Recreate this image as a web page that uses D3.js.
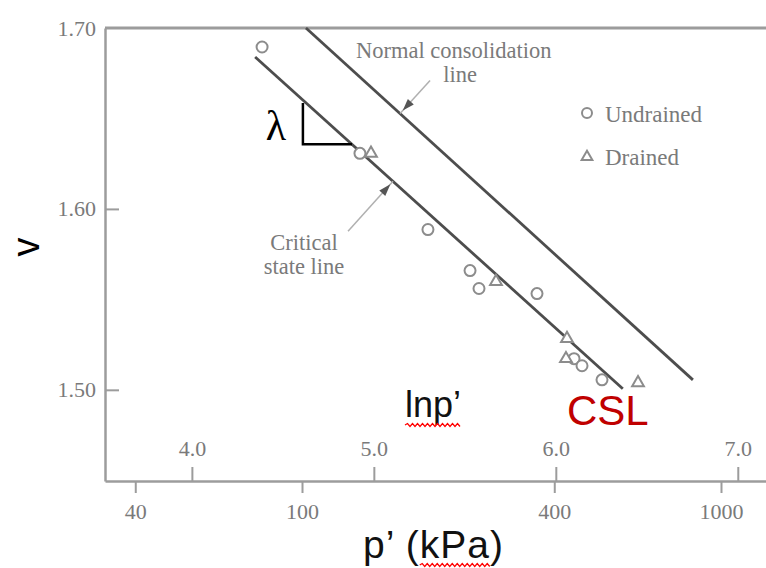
<!DOCTYPE html>
<html>
<head>
    <meta charset="utf-8">
    <script src="https://d3js.org/d3.v7.min.js"></script>
    <style>
        body { margin: 0; background: #fff; }
        .serif { font-family: 'Liberation Serif', 'DejaVu Serif', serif; fill: #7a7a7a; }
        .sans { font-family: 'Liberation Sans', Arial, sans-serif; }
    </style>
</head>
<body>
<div id="chart"></div>
<script>
    // values (p' in kPa, v specific volume)
    const undrainedP = [80.3, 137.5, 199.8, 251.8, 264.5, 363.8, 445.9, 465.9, 520];
    const undrainedV = [1.6895, 1.6307, 1.5886, 1.5659, 1.5560, 1.5532, 1.5172, 1.5133, 1.5055];
    const drainedP = [146.1, 290.4, 429, 426.6, 633.8];
    const drainedV = [1.6307, 1.5598, 1.5283, 1.5172, 1.5039];

    // line end points
    const cslP = [77.3, 583];
    const cslV = [1.684, 1.5006];
    const nclP = [102.2, 857];
    const nclV = [1.700, 1.5055];

    // slope triangle along the CSL
    const lambdaP = [100.5, 131.6];

    const pTicks = [40, 100, 400, 1000];
    const lnTicks = [4, 5, 6, 7];
    const vTicks = [1.50, 1.60, 1.70];

    var width = 766, height = 568;
    var mLeft = 105, mRight = 766, mTop = 28, mBottom = 481;

    var svg = d3.select("#chart").append("svg")
        .attr("width", width)
        .attr("height", height);

    var x = d3.scaleLog().domain([33.87, 1280.6]).range([mLeft, mRight]);
    var xl = d3.scaleLinear().domain([Math.log(33.87), Math.log(1280.6)]).range([mLeft, mRight]);
    var y = d3.scaleLinear().domain([1.4496, 1.70]).range([mBottom, mTop]);

    // v on a line at pressure p (straight in v - ln p)
    function lineV(ps, vs, p) {
        var t = (Math.log(p) - Math.log(ps[0])) / (Math.log(ps[1]) - Math.log(ps[0]));
        return vs[0] + t * (vs[1] - vs[0]);
    }

    var axisColor = "#9c9c9c";
    var labelColor = "#8a8a8a";

    // y axis
    var yAxis = svg.append("g")
        .attr("transform", "translate(" + mLeft + ",0)")
        .call(d3.axisLeft(y).tickValues(vTicks).tickFormat(d3.format(".2f"))
            .tickSize(-14).tickSizeOuter(0).tickPadding(9));
    yAxis.select(".domain").attr("stroke", axisColor).attr("stroke-width", 2.5);
    yAxis.selectAll(".tick line").attr("stroke", axisColor).attr("stroke-width", 2)
        .filter(d => d === 1.70).remove();
    yAxis.selectAll(".tick text").attr("class", "serif").style("font-size", "22px").attr("fill", labelColor);

    // top border
    svg.append("line")
        .attr("x1", mLeft).attr("x2", mRight)
        .attr("y1", mTop).attr("y2", mTop)
        .attr("stroke", axisColor).attr("stroke-width", 3);

    // p' axis (below)
    var xAxis = svg.append("g")
        .attr("transform", "translate(0," + mBottom + ")")
        .call(d3.axisBottom(x).tickValues(pTicks).tickFormat(d3.format("d"))
            .tickSize(12).tickSizeOuter(0).tickPadding(10));
    xAxis.select(".domain").attr("stroke", axisColor).attr("stroke-width", 2.5);
    xAxis.selectAll(".tick line").attr("stroke", axisColor).attr("stroke-width", 2);
    xAxis.selectAll(".tick text").attr("class", "serif").style("font-size", "22px").attr("fill", labelColor);

    // ln p' axis (ticks up)
    var lnAxis = svg.append("g")
        .attr("transform", "translate(0," + mBottom + ")")
        .call(d3.axisTop(xl).tickValues(lnTicks).tickFormat(d3.format(".1f"))
            .tickSize(14).tickSizeOuter(0).tickPadding(11));
    lnAxis.select(".domain").remove();
    lnAxis.selectAll(".tick line").attr("stroke", axisColor).attr("stroke-width", 2);
    lnAxis.selectAll(".tick text").attr("class", "serif").style("font-size", "22px").attr("fill", labelColor);

    // NCL and CSL
    var line = d3.line().x(d => x(d[0])).y(d => y(d[1]));
    svg.append("path")
        .datum(d3.zip(nclP, nclV))
        .attr("d", line)
        .attr("fill", "none").attr("stroke", "#4d4d4d").attr("stroke-width", 2.8);
    svg.append("path")
        .datum(d3.zip(cslP, cslV))
        .attr("d", line)
        .attr("fill", "none").attr("stroke", "#4d4d4d").attr("stroke-width", 2.8);

    // lambda triangle
    var ta = [x(lambdaP[0]), y(lineV(cslP, cslV, lambdaP[0]))];
    var tb = [x(lambdaP[1]), y(lineV(cslP, cslV, lambdaP[1]))];
    svg.append("path")
        .attr("d", "M" + ta[0] + "," + (ta[1] + 3) + "V" + tb[1] + "H" + tb[0])
        .attr("fill", "none").attr("stroke", "#000").attr("stroke-width", 2.5);
    svg.append("text")
        .attr("x", ta[0] - 27).attr("y", tb[1] - 4)
        .attr("text-anchor", "middle")
        .style("font-family", "'Liberation Serif', serif")
        .style("font-size", "42px")
        .text("λ");

    // markers
    var markerColor = "#8c8c8c";
    svg.selectAll(".undrained")
        .data(d3.zip(undrainedP, undrainedV))
        .enter().append("circle")
        .attr("class", "undrained")
        .attr("cx", d => x(d[0])).attr("cy", d => y(d[1]))
        .attr("r", 5.5)
        .attr("fill", "#fff").attr("stroke", markerColor).attr("stroke-width", 2);

    var tri = d3.symbol().type(d3.symbolTriangle).size(60);
    svg.selectAll(".drained")
        .data(d3.zip(drainedP, drainedV))
        .enter().append("path")
        .attr("class", "drained")
        .attr("d", tri)
        .attr("transform", d => "translate(" + x(d[0]) + "," + y(d[1]) + ")")
        .attr("fill", "#fff").attr("stroke", markerColor).attr("stroke-width", 2);

    // annotation arrows
    function arrow(x1, y1, x2, y2) {
        svg.append("line")
            .attr("x1", x1).attr("y1", y1).attr("x2", x2).attr("y2", y2)
            .attr("stroke", "#b0b0b0").attr("stroke-width", 1.5);
        var ang = Math.atan2(y2 - y1, x2 - x1);
        var back = 12, tipBack = 4, w = 4;
        var tx = x2 - tipBack * Math.cos(ang), ty = y2 - tipBack * Math.sin(ang);
        var bx = tx - back * Math.cos(ang), by = ty - back * Math.sin(ang);
        var px = -Math.sin(ang) * w, py = Math.cos(ang) * w;
        svg.append("path")
            .attr("d", "M" + tx + "," + ty + "L" + (bx + px) + "," + (by + py) + "L" + (bx - px) + "," + (by - py) + "Z")
            .attr("fill", "#555");
    }
    var nclTipP = 171.4, cslTipP = 164.9;
    var nTip = [x(nclTipP), y(lineV(nclP, nclV, nclTipP))];
    arrow(nTip[0] + 30, nTip[1] - 33, nTip[0], nTip[1]);
    var cTip = [x(cslTipP), y(lineV(cslP, cslV, cslTipP))];
    arrow(cTip[0] - 45, cTip[1] + 50, cTip[0], cTip[1]);

    // annotation texts
    svg.append("text").attr("class", "serif").style("font-size", "22.5px")
        .attr("x", 356).attr("y", 58).text("Normal consolidation");
    svg.append("text").attr("class", "serif").style("font-size", "22.5px")
        .attr("x", 460).attr("y", 82).attr("text-anchor", "middle").text("line");
    svg.append("text").attr("class", "serif").style("font-size", "22.5px")
        .attr("x", 304).attr("y", 250).attr("text-anchor", "middle").text("Critical");
    svg.append("text").attr("class", "serif").style("font-size", "22.5px")
        .attr("x", 304).attr("y", 274).attr("text-anchor", "middle").text("state line");

    // legend
    svg.append("circle").attr("cx", 587).attr("cy", 113).attr("r", 5)
        .attr("fill", "#fff").attr("stroke", markerColor).attr("stroke-width", 2);
    svg.append("path").attr("d", d3.symbol().type(d3.symbolTriangle).size(50))
        .attr("transform", "translate(587,157)")
        .attr("fill", "#fff").attr("stroke", markerColor).attr("stroke-width", 2);
    svg.append("text").attr("class", "serif").style("font-size", "23px")
        .attr("x", 605).attr("y", 122).text("Undrained");
    svg.append("text").attr("class", "serif").style("font-size", "23px")
        .attr("x", 605).attr("y", 165).text("Drained");

    // red spell-check squiggle
    function squiggle(x0, x1, yy) {
        var d = "M" + x0 + "," + yy, up = true;
        for (var sx = x0 + 2.5; sx <= x1; sx += 2.5) {
            d += "L" + sx + "," + (yy + (up ? -1.5 : 1.5));
            up = !up;
        }
        svg.append("path").attr("d", d).attr("fill", "none").attr("stroke", "#ff0000").attr("stroke-width", 1.3);
    }

    // axis titles
    svg.append("text").attr("class", "sans")
        .attr("transform", "translate(39,247) rotate(-90)")
        .attr("text-anchor", "middle")
        .style("font-size", "38px")
        .text("v");

    var lnLabel = svg.append("text").attr("class", "sans")
        .attr("x", 405).attr("y", 417)
        .style("font-size", "36px").attr("fill", "#111")
        .text("lnp’");
    squiggle(405, 405 + lnLabel.node().getComputedTextLength(), 425);

    svg.append("text").attr("class", "sans")
        .attr("x", 567).attr("y", 425)
        .style("font-size", "42px").attr("fill", "#c00000")
        .text("CSL");

    var pLabel = svg.append("text").attr("class", "sans")
        .attr("x", 363).attr("y", 558)
        .style("font-size", "39px").style("letter-spacing", "1px").attr("fill", "#111")
        .text("p’ (kPa)");
    var pn = pLabel.node();
    var kx0 = 363 + pn.getSubStringLength(0, 4);
    var kx1 = 363 + pn.getSubStringLength(0, 7);
    squiggle(kx0, kx1, 565);
</script>
</body>
</html>
